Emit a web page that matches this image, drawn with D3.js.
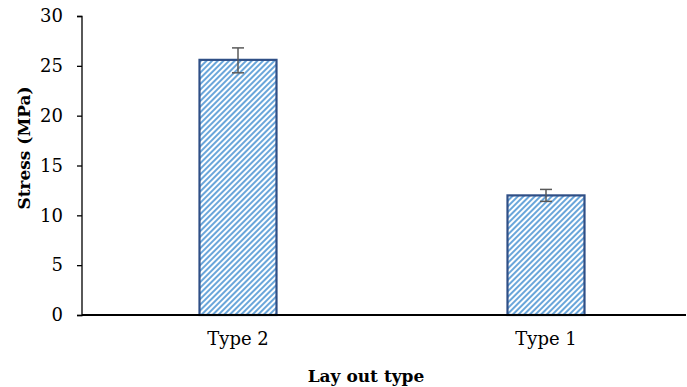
<!DOCTYPE html>
<html><head><meta charset="utf-8">
<script src="https://cdn.jsdelivr.net/npm/d3@7"></script>
<style>body{margin:0;background:#fff}svg{display:block}text{font-family:"DejaVu Serif","Liberation Serif",serif}</style>
</head><body>
<script>
const categories = ["Type 2", "Type 1"];
const values = [25.6, 12.0];
const errLow = [24.3, 11.4];
const errHigh = [26.8, 12.6];
const yTicks = [0, 5, 10, 15, 20, 25, 30];

const W = 687, H = 387;
const svg = d3.select("body").append("svg").attr("width", W).attr("height", H);
const defs = svg.append("defs");
const pat = defs.append("pattern").attr("id","hatch").attr("patternUnits","userSpaceOnUse")
  .attr("width",4).attr("height",4).attr("patternTransform","rotate(45)");
pat.append("rect").attr("width",4).attr("height",4).attr("fill","#ffffff");
pat.append("rect").attr("width",2).attr("height",4).attr("fill","#6aa6da");

const y = d3.scaleLinear().domain([0,30]).range([315,16]);
const x = d3.scaleBand().domain(categories).range([84,700]).paddingInner(0.75).paddingOuter(0.375);

// bars
svg.selectAll("rect.bar").data(categories).enter().append("rect").attr("class","bar")
  .attr("x", d=>x(d)).attr("width", x.bandwidth())
  .attr("y", (d,i)=>y(values[i])).attr("height",(d,i)=>y(0)-y(values[i]))
  .attr("fill","url(#hatch)").attr("stroke","#2f4f86").attr("stroke-width",2.2);

// error bars
const eb = svg.append("g").attr("stroke","#595959").attr("stroke-width",1.5);
categories.forEach((c,i)=>{
  const cx = x(c)+x.bandwidth()/2;
  eb.append("line").attr("x1",cx).attr("x2",cx).attr("y1",y(errLow[i])).attr("y2",y(errHigh[i]));
  eb.append("line").attr("x1",cx-6).attr("x2",cx+6).attr("y1",y(errLow[i])).attr("y2",y(errLow[i]));
  eb.append("line").attr("x1",cx-6).attr("x2",cx+6).attr("y1",y(errHigh[i])).attr("y2",y(errHigh[i]));
});

// y axis
const yAxis = d3.axisLeft(y).tickValues(yTicks).tickSize(5).tickPadding(14);
const gy = svg.append("g").attr("transform","translate(82,0)").call(yAxis);
gy.select(".domain").attr("stroke","#000").attr("stroke-width",1.3).attr("d","M-5,16.5H0V315.5H-5");
gy.selectAll(".tick line").attr("stroke","#000").attr("stroke-width",1.3);
gy.selectAll("text").attr("font-size",18).attr("fill","#000").attr("font-family","DejaVu Serif");

// x axis
const xAxis = d3.axisBottom(x).tickSize(0).tickPadding(17);
const gx = svg.append("g").attr("transform","translate(0,315)").call(xAxis);
gx.select(".domain").attr("stroke","#000").attr("stroke-width",2).attr("d","M82,0H686");
gx.selectAll("text").attr("font-size",18).attr("fill","#000").attr("font-family","DejaVu Serif");

// titles
svg.append("text").attr("x",366).attr("y",382).attr("text-anchor","middle")
  .attr("font-size",17).attr("font-weight","bold").text("Lay out type");
svg.append("text").attr("transform","translate(30,148) rotate(-90)").attr("text-anchor","middle")
  .attr("font-size",17).attr("font-weight","bold").text("Stress (MPa)");
</script>
</body></html>
